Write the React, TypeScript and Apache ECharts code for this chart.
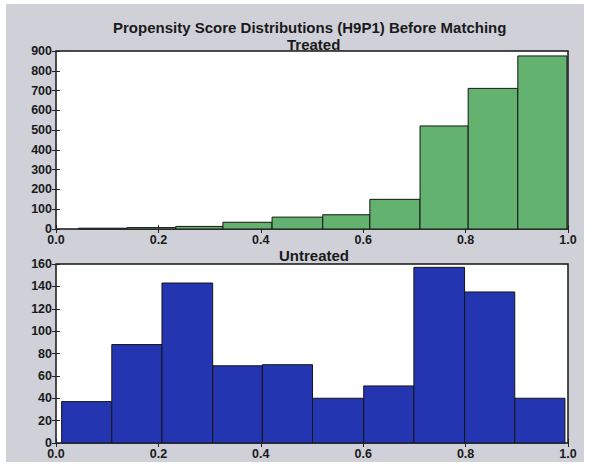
import React, { useEffect, useRef } from "react";
import * as echarts from "echarts";

const treatedEdges = [0.044, 0.139, 0.234, 0.326, 0.422, 0.521, 0.613, 0.711, 0.805, 0.902, 0.998];
const treatedCounts = [4, 7, 13, 34, 60, 72, 150, 521, 711, 875];
const untreatedEdges = [0.011, 0.109, 0.207, 0.306, 0.403, 0.501, 0.601, 0.699, 0.798, 0.896, 0.994];
const untreatedCounts = [37, 88, 143, 69, 70, 40, 51, 157, 135, 40];

const FONT = "Liberation Sans";

function bins(edges: number[], counts: number[]) {
  return counts.map((c, i) => [edges[i], edges[i + 1], c]);
}

export default function App() {
  const ref = useRef<HTMLDivElement>(null);
  useEffect(() => {
    if (!ref.current) return;
    const chart = echarts.init(ref.current, undefined, { renderer: "svg" });
    const label = { fontFamily: FONT, fontSize: 12.5, fontWeight: "bold" as const, color: "#1a1a1a" };
    const tick = { show: true, inside: true, length: 4, lineStyle: { color: "#222" } };
    const mkX = (gi: number) => [
      {
        type: "value", gridIndex: gi, min: 0, max: 1, interval: 0.2,
        axisLine: { show: false }, axisTick: tick, splitLine: { show: false },
        axisLabel: { ...label, margin: 4, formatter: (v: number) => v.toFixed(1) },
      },
      {
        type: "value", gridIndex: gi, position: "top", min: 0, max: 1, interval: 0.2,
        axisLine: { show: false }, axisTick: tick, splitLine: { show: false },
        axisLabel: { show: false },
      },
    ];
    const mkY = (gi: number, max: number, interval: number) => [
      {
        type: "value", gridIndex: gi, min: 0, max, interval,
        axisLine: { show: false }, axisTick: tick, splitLine: { show: false },
        axisLabel: { ...label, margin: 4 },
      },
      {
        type: "value", gridIndex: gi, position: "right", min: 0, max, interval,
        axisLine: { show: false }, axisTick: tick, splitLine: { show: false },
        axisLabel: { show: false },
      },
    ];
    const mkSeries = (gi: number, data: number[][], color: string) => ({
      type: "custom",
      xAxisIndex: gi * 2,
      yAxisIndex: gi * 2,
      data,
      encode: { x: [0, 1], y: 2 },
      renderItem: (params: any, api: any) => {
        const p0 = api.coord([api.value(0), 0]);
        const p1 = api.coord([api.value(1), api.value(2)]);
        return {
          type: "rect",
          shape: { x: p0[0], y: p1[1], width: p1[0] - p0[0], height: p0[1] - p1[1] },
          style: { fill: color, stroke: "#151515", lineWidth: 1 },
        };
      },
    });
    const titleStyle = { fontFamily: FONT, fontSize: 15, fontWeight: "bold" as const, color: "#1a1a1a" };
    chart.setOption({
      animation: false,
      backgroundColor: "#ffffff",
      graphic: [
        { type: "rect", z: -10, shape: { x: 6, y: 4, width: 578, height: 458 }, style: { fill: "#cfd0d8" } },
      ],
      title: [
        { text: "Propensity Score Distributions (H9P1) Before Matching", left: 108, top: 15, textStyle: titleStyle },
        { text: "Treated", left: 282, top: 32, textStyle: titleStyle },
        { text: "Untreated", left: 274, top: 243, textStyle: titleStyle },
      ],
      grid: [
        { left: 56, top: 51, width: 512, height: 178, show: true, backgroundColor: "#ffffff", borderColor: "#151515", borderWidth: 1.5 },
        { left: 56, top: 264, width: 512, height: 179, show: true, backgroundColor: "#ffffff", borderColor: "#151515", borderWidth: 1.5 },
      ],
      xAxis: [...mkX(0), ...mkX(1)],
      yAxis: [...mkY(0, 900, 100), ...mkY(1, 160, 20)],
      series: [
        mkSeries(0, bins(treatedEdges, treatedCounts), "#63b26f"),
        mkSeries(1, bins(untreatedEdges, untreatedCounts), "#2335b0"),
      ],
    });
    return () => chart.dispose();
  }, []);
  return <div ref={ref} style={{ position: "absolute", left: 0, top: 0, width: 592, height: 468 }} />;
}
